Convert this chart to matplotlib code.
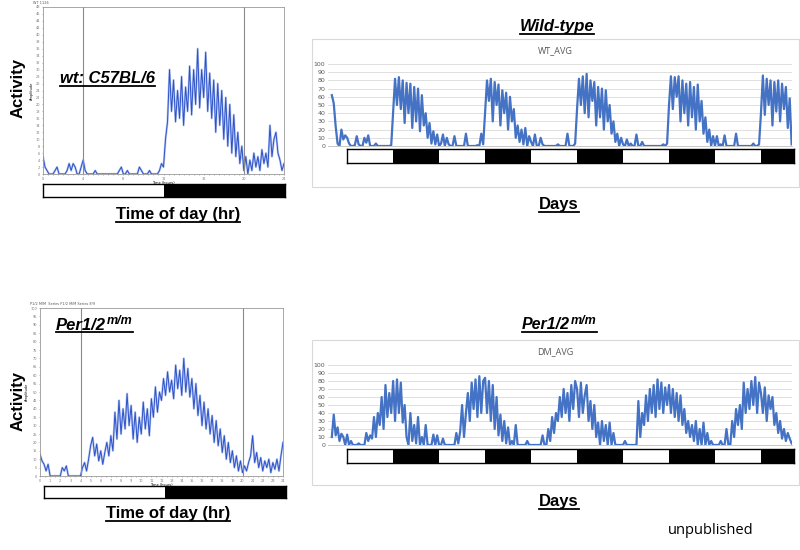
import numpy as np
import matplotlib
matplotlib.use("Agg")
import matplotlib.pyplot as plt
from matplotlib.patches import Rectangle
from matplotlib.lines import Line2D

W, H = 800, 550

# ---- 24 h activity profiles (0.2 h bins, ZT0..ZT24) ----
hours_24 = np.arange(0, 24.01, 0.2)

wt_1126 = [
    5, 2, 1, 0, 0, 0, 1, 2, 0, 0,
    0, 0, 1, 3, 1, 3, 2, 0, 0, 2,
    4, 1, 0, 0, 0, 0, 1, 0, 0, 0,
    0, 0, 0, 0, 0, 0, 0, 0, 1, 2,
    0, 0, 1, 0, 0, 0, 0, 0, 2, 1,
    0, 0, 0, 1, 0, 0, 0, 0, 1, 3,
    2, 10, 15, 30, 18, 27, 15, 24, 16, 28,
    14, 25, 18, 31, 17, 30, 20, 36, 19, 30,
    22, 35, 18, 29, 16, 27, 12, 26, 14, 24,
    10, 22, 8, 20, 6, 17, 5, 12, 3, 8,
    1, 5, 0, 4, 1, 6, 2, 5, 1, 7,
    3, 6, 2, 14, 5, 10, 12, 6, 4, 1,
    3,
]

per_24h = [
    13, 9, 7, 3, 7, 0, 0, 0, 0, 0,
    0, 5, 3, 6, 0, 0, 0, 0, 0, 0,
    0, 5, 8, 3, 10, 18, 23, 12, 19, 9,
    15, 7, 14, 20, 12, 24, 15, 38, 22, 45,
    25, 40, 28, 49, 30, 42, 22, 38, 20, 35,
    25, 44, 28, 40, 24, 46, 35, 53, 38, 50,
    45, 58, 48, 62, 50, 57, 46, 66, 52, 63,
    48, 70, 50, 64, 47, 58, 40, 55, 36, 48,
    30, 44, 28, 40, 25, 36, 20, 33, 18, 28,
    14, 24, 10, 20, 8, 15, 5, 12, 3, 9,
    2, 6, 3, 8, 12, 24, 8, 14, 5, 11,
    3, 9, 5, 10, 2, 8, 4, 10, 3, 12,
    20,
]

# ---- 5-day averages (0.5 h bins, starting 4 h before first lights-on) ----
hours_avg = np.arange(-4, 116.01, 0.5)

wt_avg = (
    [62, 52, 24, 3, 0, 20, 8, 13]                                                          # ZT20-24
    + [10, 3, 0, 0, 1, 12, 2, 0, 0, 10, 4, 13, 0, 0, 0, 3, 0, 0, 0, 0, 0, 0, 0, 1]          # L
    + [42, 82, 50, 84, 45, 80, 28, 77, 40, 76, 22, 72, 30, 70, 18, 62, 25, 40, 10, 28, 3, 18, 2, 14]
    + [0, 3, 14, 0, 10, 2, 0, 0, 12, 0, 0, 0, 0, 0, 15, 0, 0, 0, 0, 0, 1, 0, 15, 2]
    + [42, 80, 55, 82, 30, 78, 50, 75, 25, 68, 40, 65, 20, 60, 30, 45, 10, 25, 5, 20, 2, 22, 0, 12]
    + [5, 0, 14, 0, 0, 10, 2, 0, 0, 0, 0, 0, 0, 0, 2, 0, 0, 0, 0, 15, 0, 0, 0, 3]
    + [45, 82, 50, 85, 40, 88, 35, 80, 55, 78, 25, 72, 35, 70, 20, 68, 30, 50, 15, 30, 5, 15, 0, 10]
    + [2, 0, 8, 0, 3, 0, 0, 14, 0, 0, 5, 0, 0, 0, 0, 0, 0, 0, 0, 0, 0, 2, 0, 3]
    + [50, 85, 45, 84, 60, 85, 30, 80, 40, 76, 25, 78, 35, 72, 20, 75, 30, 55, 15, 35, 5, 20, 0, 12]
    + [0, 12, 0, 2, 0, 13, 0, 0, 0, 0, 0, 15, 0, 0, 0, 0, 0, 0, 0, 0, 3, 0, 0, 2]
    + [40, 86, 38, 82, 50, 80, 25, 78, 42, 80, 30, 76, 45, 72, 22, 58, 2]
)

dm_avg = (
    [10, 38, 12, 22, 5, 14, 10, 0]
    + [13, 0, 5, 0, 0, 0, 2, 0, 0, 0, 15, 5, 12, 8, 35, 10, 40, 25, 60, 20, 75, 35, 65, 40]
    + [80, 30, 82, 40, 78, 28, 50, 10, 0, 40, 5, 25, 2, 35, 0, 10, 0, 25, 0, 0, 0, 13, 0, 12]
    + [0, 0, 8, 0, 0, 0, 0, 0, 0, 15, 2, 17, 50, 10, 40, 65, 30, 78, 45, 82, 35, 86, 40, 80]
    + [84, 40, 80, 30, 75, 20, 60, 12, 38, 5, 30, 2, 22, 0, 5, 0, 25, 0, 0, 0, 0, 0, 5, 0]
    + [0, 0, 0, 0, 0, 0, 12, 0, 0, 20, 5, 35, 15, 40, 30, 60, 35, 70, 40, 65, 30, 75, 45, 80]
    + [70, 35, 78, 40, 62, 75, 30, 55, 20, 50, 10, 28, 0, 30, 5, 25, 0, 28, 0, 15, 0, 0, 0, 0]
    + [0, 5, 0, 0, 0, 0, 0, 0, 55, 10, 40, 25, 62, 30, 70, 40, 75, 35, 82, 45, 78, 40, 72, 50]
    + [75, 40, 70, 35, 65, 30, 62, 25, 45, 15, 30, 10, 25, 5, 30, 0, 20, 0, 28, 0, 15, 0, 5, 0]
    + [0, 0, 0, 5, 0, 0, 20, 0, 0, 30, 10, 45, 25, 50, 20, 78, 40, 70, 45, 80, 50, 85, 40, 78]
    + [65, 40, 72, 30, 62, 45, 60, 25, 40, 15, 30, 8, 20, 5, 15, 8, 2]
)

dark_starts = [12, 36, 60, 84, 108]
bar_end = 116.5

fig = plt.figure(figsize=(8, 5.5), dpi=100)
renderer = fig.canvas.get_renderer()
BOLD = dict(family="Liberation Sans", weight="bold")


def rect_px(x0, y0, x1, y1):
    return [x0 / W, 1 - y1 / H, (x1 - x0) / W, (y1 - y0) / H]


def text_px(x, y, s, **kw):
    return fig.text(x / W, 1 - y / H, s, **kw)


def underline(items, y, lw=1.3):
    x0 = min(t.get_window_extent(renderer).x0 for t in items)
    x1 = max(t.get_window_extent(renderer).x1 for t in items)
    fig.add_artist(Line2D([x0 / W, x1 / W], [1 - y / H] * 2,
                          transform=fig.transFigure, color="black", lw=lw))


def day_panel(box, values, ymax, ystep, xstep, title):
    ax = fig.add_axes(rect_px(*box))
    ax.plot(hours_24, values, color="#b9c7f2", lw=1.6)
    ax.plot(hours_24, values, color="#2c52c8", lw=0.7)
    for x in (4, 20):
        ax.axvline(x, color="#8a8a8a", lw=0.8)
    ax.set_xlim(0, 24)
    ax.set_ylim(0, ymax)
    ax.set_yticks(np.arange(0, ymax + 0.1, ystep))
    ax.set_xticks(np.arange(0, 24.01, xstep))
    ax.set_xticks(np.arange(0, 24.01, 0.5), minor=True)
    ax.tick_params(labelsize=2.5, colors="#777777", length=1, width=0.4, pad=1)
    ax.tick_params(which="minor", length=0.8, width=0.4, colors="#777777")
    for s in ax.spines.values():
        s.set_color("#999999")
        s.set_linewidth(0.6)
    ax.set_ylabel("Amplitude", fontsize=2.5, labelpad=1)
    ax.set_xlabel("Time (hours)", fontsize=2.5, labelpad=0.5)
    ax.set_title(title, fontsize=2.5, loc="left", x=-0.04, pad=2, color="#555555")
    return ax


def ld_bar(box, xmax, starts, length):
    ax = fig.add_axes(rect_px(*box))
    for s in starts:
        ax.axvspan(s, min(s + length, xmax), color="black", lw=0)
    ax.set_xlim(0, xmax)
    ax.set_xticks([])
    ax.set_yticks([])
    for s in ax.spines.values():
        s.set_linewidth(1.0)
    return ax


def avg_panel(frame, box, bar_box, x, values, name):
    x0, y0, x1, y1 = frame
    fig.add_artist(Rectangle((x0 / W, 1 - y1 / H), (x1 - x0) / W, (y1 - y0) / H,
                             transform=fig.transFigure, fill=False,
                             edgecolor="#d9d9d9", lw=0.8))
    ax = fig.add_axes(rect_px(*box))
    ax.plot(x, values, color="#4472C4", lw=1.6)
    ax.set_xlim(-5, 116.1)
    ax.set_ylim(0, 100)
    ax.set_yticks(np.arange(0, 101, 10))
    ax.set_xticks([])
    ax.grid(axis="y", color="#d9d9d9", lw=0.6)
    ax.set_axisbelow(True)
    for k in ("top", "right", "left"):
        ax.spines[k].set_visible(False)
    ax.spines["bottom"].set_color("#bfbfbf")
    ax.spines["bottom"].set_linewidth(0.6)
    ax.tick_params(axis="y", labelsize=4.5, colors="#595959", length=0, pad=2)
    text_px((x0 + x1) / 2 - 0.5, y0 + 12, name, ha="center", va="center",
            fontsize=6.5, color="#595959", family="Open Sans")
    ld_bar(bar_box, bar_end, dark_starts, 12)


# ---- left: single-day profiles ----
day_panel((43, 7, 284, 174), wt_1126, 48, 2, 4, "WT 1126")
ld_bar((43, 184, 285, 197), 24, [12], 12)
day_panel((40, 308, 283, 476), per_24h, 100, 5, 1, "P1/2 M/M  Series P1/2 M/M Series 8/9")
ld_bar((44, 486, 286, 498), 24, [12], 12)

text_px(18, 88, "Activity", rotation=90, ha="center", va="center", fontsize=12, **BOLD)
text_px(18, 401, "Activity", rotation=90, ha="center", va="center", fontsize=12, **BOLD)

t = text_px(178, 219, "Time of day (hr)", ha="center", va="baseline", fontsize=12, **BOLD)
underline([t], 221.5)
t = text_px(168, 518, "Time of day (hr)", ha="center", va="baseline", fontsize=12, **BOLD)
underline([t], 520.5)

t = text_px(60, 83, "wt: C57BL/6", ha="left", va="baseline", fontsize=12, style="italic", **BOLD)
underline([t], 86)

t1 = text_px(56, 329.5, "Per1/2", ha="left", va="baseline", fontsize=12, style="italic", **BOLD)
bb = t1.get_window_extent(renderer)
t2 = text_px(bb.x1 + 1, 324, "m/m", ha="left", va="baseline", fontsize=9, style="italic", **BOLD)
underline([t1, t2], 332.3)

# ---- right: 5-day averages ----
avg_panel((312, 39, 799, 187), (328, 64, 792, 146), (347, 149, 794, 163),
          hours_avg, wt_avg, "WT_AVG")
avg_panel((312, 340, 799, 485), (328, 365, 792, 445), (347, 449, 794, 463),
          hours_avg, dm_avg, "DM_AVG")

t = text_px(557, 31, "Wild-type", ha="center", va="baseline", fontsize=12, style="italic", **BOLD)
underline([t], 33.5)

t1 = text_px(522, 329, "Per1/2", ha="left", va="baseline", fontsize=11.5, style="italic", **BOLD)
bb = t1.get_window_extent(renderer)
t2 = text_px(bb.x1 + 1, 324, "m/m", ha="left", va="baseline", fontsize=9, style="italic", **BOLD)
underline([t1, t2], 332)

t = text_px(559, 209.5, "Days", ha="center", va="baseline", fontsize=12, **BOLD)
underline([t], 211.5)
t = text_px(559, 506, "Days", ha="center", va="baseline", fontsize=12, **BOLD)
underline([t], 508.5)

text_px(711, 530, "unpublished", ha="center", va="center", fontsize=10.5, family="Open Sans")

fig.savefig("out.png", dpi=100)
